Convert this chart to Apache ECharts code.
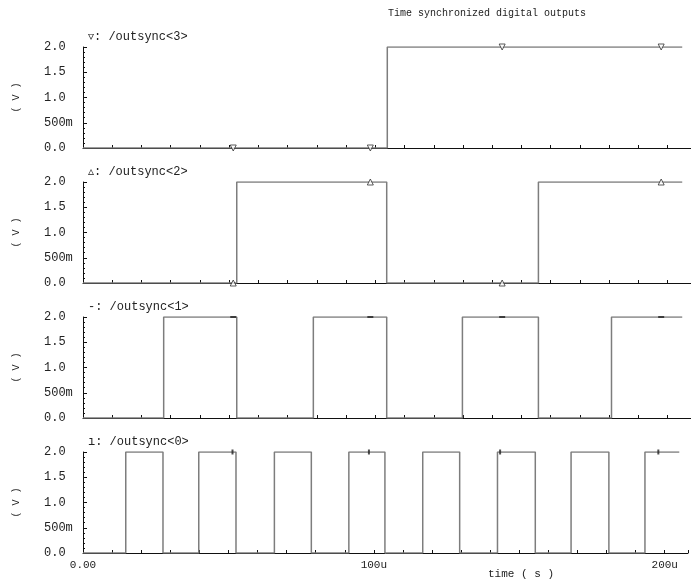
<!DOCTYPE html>
<html lang="en">
<head>
    <meta charset="UTF-8">
    <title>Time synchronized digital outputs</title>
</head>
<body style="margin:0;background:#fff;">
<div id="main" style="width: 691px; height: 581px;"></div>

<script src="https://cdn.jsdelivr.net/npm/echarts@6/dist/echarts.min.js"></script>

<script>
// times in microseconds, levels in volts
var endTime = 205;

var names = ['\u25BF: /outsync<3>', '\u25B5: /outsync<2>', '-: /outsync<1>', '\u0131: /outsync<0>'];

var edges3 = [0, 104.1];
var levels3 = [0, 2];
var edges2 = [0, 52.6, 103.9, 155.8];
var levels2 = [0, 2, 0, 2];
var edges1 = [0, 27.6, 52.6, 78.8, 103.9, 129.8, 155.8, 180.8];
var levels1 = [0, 2, 0, 2, 0, 2, 0, 2];
var edges0 = [0, 14.7, 27.5, 39.8, 52.6, 65.8, 78.5, 91.4, 103.8, 116.8, 129.5, 142.5, 155.5, 167.8, 180.8, 193.2];
var levels0 = [0, 2, 0, 2, 0, 2, 0, 2, 0, 2, 0, 2, 0, 2, 0, 2];

var markerTimes = [51.4, 98.3, 143.4, 197.8];
var markerLevels3 = [0, 0, 2, 2];
var markerLevels2 = [0, 2, 0, 2];
var markerLevels1 = [2, 2, 2, 2];
var markerLevels0 = [2, 2, 2, 2];

var xTickLabels = {0: '0.00', 100: '100u', 200: '200u'};
var yTickLabels = {0: '0.0', 0.5: '500m', 1: '1.0', 1.5: '1.5', 2: '2.0'};

var mono = 'Liberation Mono';
var tops = [47, 182, 317, 452];
var panelH = 101;

var signals = [
    {edges: edges3, levels: levels3, marks: markerLevels3, symbol: 'triangle', rotate: 180, size: 6, empty: true},
    {edges: edges2, levels: levels2, marks: markerLevels2, symbol: 'triangle', rotate: 0, size: 6, empty: true},
    {edges: edges1, levels: levels1, marks: markerLevels1, symbol: 'rect', rotate: 0, size: [6, 2], empty: false},
    {edges: edges0, levels: levels0, marks: markerLevels0, symbol: 'rect', rotate: 0, size: [2, 5], empty: false}
];

var grids = [], xAxes = [], yAxes = [], series = [];
var titles = [{
    text: 'Time synchronized digital outputs',
    left: 388, top: 8, padding: 0,
    textStyle: {fontFamily: mono, fontSize: 10, fontWeight: 'normal', color: '#222'}
}, {
    text: 'time ( s )',
    left: 488, top: 569, padding: 0,
    textStyle: {fontFamily: mono, fontSize: 11, fontWeight: 'normal', color: '#222'}
}];

signals.forEach(function (s, i) {
    var last = i === signals.length - 1;
    grids.push({left: 83, right: 0, top: tops[i], height: panelH});
    titles.push({
        text: names[i],
        left: 88, top: tops[i] - 16, padding: 0,
        textStyle: {fontFamily: mono, fontSize: 12, fontWeight: 'normal', color: '#222'}
    });
    xAxes.push({
        type: 'value', gridIndex: i, min: 0, max: 208, interval: 10,
        axisLine: {lineStyle: {color: '#111', width: 1}},
        axisTick: {inside: true, length: 3, lineStyle: {color: '#111'}},
        splitLine: {show: false},
        axisLabel: {
            show: last, fontFamily: mono, fontSize: 11, color: '#222', margin: 7,
            formatter: function (v) { return xTickLabels[v] || ''; }
        }
    });
    yAxes.push({
        type: 'value', gridIndex: i, min: 0, max: 2, interval: 0.5,
        name: '( V )', nameLocation: 'middle', nameGap: 62,
        nameTextStyle: {fontFamily: mono, fontSize: 10, color: '#222'},
        axisLine: {show: true, lineStyle: {color: '#111', width: 1}},
        axisTick: {inside: true, length: 4, lineStyle: {color: '#111'}},
        minorTick: {show: true, splitNumber: 5, length: 2, lineStyle: {color: '#111'}},
        splitLine: {show: false},
        axisLabel: {
            fontFamily: mono, fontSize: 12, color: '#222', margin: 39, align: 'left',
            formatter: function (v) { return yTickLabels[v] !== undefined ? yTickLabels[v] : ''; }
        }
    });
    var pts = s.edges.map(function (t, k) { return [t, s.levels[k]]; });
    pts.push([endTime, s.levels[s.levels.length - 1]]);
    series.push({
        type: 'line', xAxisIndex: i, yAxisIndex: i, step: 'end',
        data: pts, showSymbol: false, animation: false,
        lineStyle: {color: '#7d7d7d', width: 1.5}
    });
    series.push({
        type: 'scatter', xAxisIndex: i, yAxisIndex: i,
        data: markerTimes.map(function (t, k) { return [t, s.marks[k]]; }),
        symbol: s.symbol, symbolRotate: s.rotate, symbolSize: s.size,
        itemStyle: s.empty ? {color: '#fff', borderColor: '#333', borderWidth: 1} : {color: '#222'},
        animation: false, z: 5
    });
});

var myChart = echarts.init(document.getElementById('main'));
myChart.setOption({
    backgroundColor: '#fff',
    title: titles,
    grid: grids,
    xAxis: xAxes,
    yAxis: yAxes,
    series: series
});
</script>
</body>
</html>
